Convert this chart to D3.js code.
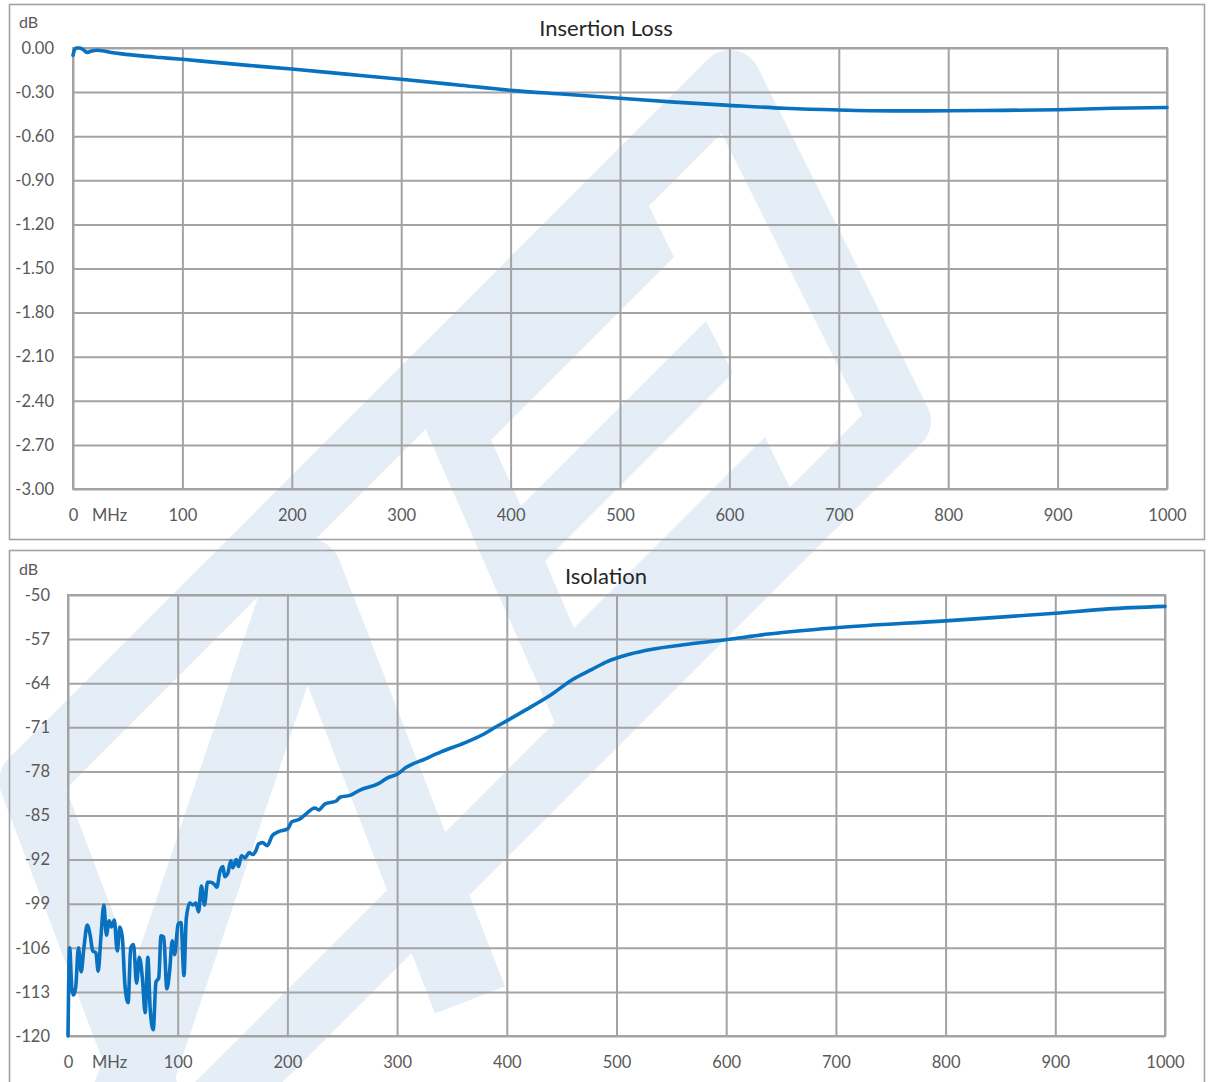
<!DOCTYPE html>
<html>
<head>
<meta charset="utf-8">
<script src="https://cdn.jsdelivr.net/npm/d3@7"></script>
<style>
  html, body { margin: 0; padding: 0; background: #ffffff; }
  svg { display: block; font-family: Lato, "Open Sans", sans-serif; }
</style>
</head>
<body>
<svg id="chart" width="1212" height="1082"></svg>
<script>
// ---------------- DATA ----------------
const xTicks = [0, 100, 200, 300, 400, 500, 600, 700, 800, 900, 1000];
const ilTicks = [0, -0.3, -0.6, -0.9, -1.2, -1.5, -1.8, -2.1, -2.4, -2.7, -3.0];
const isoTicks = [-50, -57, -64, -71, -78, -85, -92, -99, -106, -113, -120];

const ilFreq = [0, 1, 3, 6, 9, 13, 17, 22, 28, 35, 45, 60, 80, 100, 130, 160, 200, 250, 300, 350, 400, 450, 500, 550, 600, 650, 700, 750, 800, 850, 900, 950, 1000];
const ilLoss = [-0.05, -0.02, 0, 0, -0.01, -0.03, -0.02, -0.015, -0.02, -0.03, -0.04, -0.052, -0.065, -0.077, -0.098, -0.118, -0.143, -0.178, -0.213, -0.25, -0.288, -0.315, -0.342, -0.368, -0.39, -0.41, -0.422, -0.428, -0.427, -0.424, -0.42, -0.41, -0.405];

const isoFreq = [0, 1.5, 3.5, 5, 7, 9.5, 12, 14.5, 17.5, 20, 22.6, 25.4, 27.5, 30, 32.7, 35, 37.5, 39.6, 42.2, 44.9, 47.3, 49.5, 51.9, 54.8, 57.2, 59.7, 62.5, 65, 67.8, 70.3, 72.8, 74.9, 77.7, 80.2, 82.7, 84.8, 87.3, 90.1, 92.6, 95, 97.2, 100.4, 103, 105.7, 107.8, 111, 113.8, 116.6, 119, 121.6, 124.4, 127.2, 129.7, 133.2, 135.7, 138.5, 141.3, 142.8, 145.6, 148.4, 150.2, 153.4, 155.5, 158, 161.5, 165, 168.6, 171, 173.9, 177.4, 181.6, 186.2, 191.5, 200.4, 204, 211, 216, 225, 228.6, 234, 244.5, 248, 257, 265.7, 283.4, 290.5, 300.4, 308, 325.8, 340, 361, 378.8, 389.4, 400.7, 417.7, 438.9, 460, 477.7, 491, 511.6, 532.7, 560.9, 599.6, 638.4, 700, 800, 900, 948.5, 1000];
const isoLoss = [-120, -106, -112.5, -113.5, -112.3, -106, -109.8, -106, -102.4, -103.8, -106.5, -106.8, -109.7, -104.3, -99.2, -104, -101.7, -102.7, -101.6, -106.5, -102.7, -104.3, -111.9, -114.7, -106, -105.5, -111.6, -107.5, -110.8, -116.3, -107.5, -115.7, -119, -111.4, -110.8, -104.1, -104.3, -112.5, -109.8, -104.9, -107.1, -102.2, -102, -110.4, -101.4, -98.9, -99.2, -98.9, -100.3, -96.2, -99.2, -95.6, -95.6, -95.9, -96.4, -93.9, -93.1, -94.7, -94.2, -92.2, -93.3, -92, -93.1, -91.4, -91.7, -90.9, -91.2, -90.7, -89.5, -89.3, -89.8, -88.2, -87.6, -87.1, -86, -85.6, -84.9, -83.8, -84.1, -83.2, -82.7, -82.1, -81.8, -81, -79.9, -79.1, -78.4, -77.4, -76, -74.9, -73.5, -72.1, -71, -69.9, -68.2, -66, -63.4, -61.8, -60.6, -59.4, -58.6, -57.9, -57.1, -56.2, -55.2, -54.1, -52.9, -52.2, -51.8];

// ---------------- STYLE ----------------
const GRID = "#a3a3a3";
const LINE = "#0872c0";
const LABEL = "#595959";
const WM = "#e5eef7";

const svg = d3.select("#chart");

// ---------------- WATERMARK (faint logo) ----------------
const wm = svg.append("g").attr("class", "watermark");
const pathLine = d3.line();
// outer rounded ring
wm.append("path")
  .attr("d", pathLine([[730, 81], [900, 421], [170, 1151], [30, 781]]) + "Z")
  .attr("fill", "none").attr("stroke", WM).attr("stroke-width", 62)
  .attr("stroke-linejoin", "round");
// "E" shape
wm.append("path")
  .attr("d", pathLine([[425, 428], [648, 204], [674, 257], [491, 440], [521, 506], [706, 321], [733, 373],
                       [545, 561], [574, 628], [765, 437], [790, 488], [555, 723]]) + "Z")
  .attr("fill", WM);
// inner "P" stroke
wm.append("path")
  .attr("d", pathLine([[125, 1110], [305, 575], [470, 1000]]))
  .attr("fill", "none").attr("stroke", WM).attr("stroke-width", 75)
  .attr("stroke-linejoin", "round");

// ---------------- PANEL BUILDER ----------------
function panel(cfg) {
  const g = svg.append("g");
  // outer frame
  g.append("rect")
    .attr("x", cfg.frame[0]).attr("y", cfg.frame[1])
    .attr("width", cfg.frame[2]).attr("height", cfg.frame[3])
    .attr("fill", "none").attr("stroke", GRID).attr("stroke-width", 1.6);

  const x = d3.scaleLinear().domain([0, 1000]).range([cfg.l, cfg.r]);
  const y = d3.scaleLinear().domain(cfg.yDomain).range([cfg.t, cfg.b]);
  const w = cfg.r - cfg.l, h = cfg.b - cfg.t;

  // horizontal grid + y labels
  const ya = g.append("g").attr("transform", `translate(${cfg.l},0)`)
    .call(d3.axisLeft(y).tickValues(cfg.yTicks).tickSize(-w).tickPadding(cfg.yPad).tickFormat(cfg.yFmt));
  // vertical grid + x labels
  const xa = g.append("g").attr("transform", `translate(0,${cfg.b})`)
    .call(d3.axisBottom(x).tickValues(xTicks).tickSize(-h).tickPadding(20.5).tickFormat(d => String(d)));
  [ya, xa].forEach(a => {
    a.select(".domain").remove();
    a.selectAll(".tick line").attr("stroke", GRID).attr("stroke-width", 2);
    a.selectAll(".tick text").attr("fill", LABEL).attr("font-size", 16.5)
      .attr("font-family", "Lato, 'Open Sans', sans-serif");
  });
  // plot border
  g.append("rect").attr("x", cfg.l).attr("y", cfg.t).attr("width", w).attr("height", h)
    .attr("fill", "none").attr("stroke", GRID).attr("stroke-width", 2);

  // unit labels
  g.append("text").attr("x", 92).attr("y", cfg.b + 32).attr("fill", LABEL)
    .attr("font-size", 16.5).text("MHz");
  g.append("text").attr("x", 19).attr("y", cfg.dbY).attr("fill", LABEL)
    .attr("font-size", 16).text("dB");
  // title
  g.append("text").attr("x", 606).attr("y", cfg.titleY).attr("text-anchor", "middle")
    .attr("fill", "#262626").attr("font-size", 22).text(cfg.title);

  // data line
  const data = cfg.xs.map((f, i) => [f, cfg.ys[i]]);
  g.append("path").datum(data)
    .attr("fill", "none").attr("stroke", LINE).attr("stroke-width", 3.6)
    .attr("stroke-linejoin", "round").attr("stroke-linecap", "round")
    .attr("d", d3.line().x(d => x(d[0])).y(d => y(d[1])).curve(d3.curveMonotoneX));
}

panel({
  frame: [9.5, 4.5, 1195, 535],
  l: 73, r: 1167, t: 48, b: 489,
  yDomain: [0, -3], yTicks: ilTicks, yPad: 19, yFmt: d => d.toFixed(2),
  dbY: 28, titleY: 36, title: "Insertion Loss",
  xs: ilFreq, ys: ilLoss
});

panel({
  frame: [9.5, 550.5, 1195, 545],
  l: 68, r: 1165, t: 595, b: 1036,
  yDomain: [-50, -120], yTicks: isoTicks, yPad: 18, yFmt: d => String(d),
  dbY: 575, titleY: 584, title: "Isolation",
  xs: isoFreq, ys: isoLoss
});
</script>
</body>
</html>
